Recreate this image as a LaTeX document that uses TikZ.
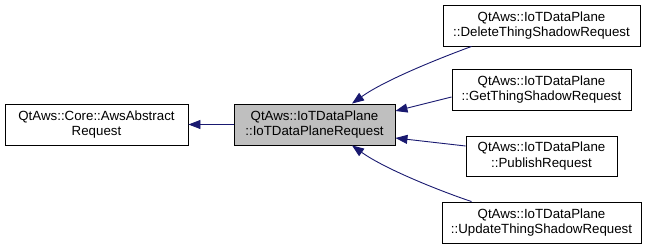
\documentclass[tikz,border=0pt]{standalone}
\usepackage{fontspec}
\setmainfont{Liberation Sans}
\usetikzlibrary{arrows.meta}
\definecolor{edgeblue}{HTML}{191970}
\definecolor{curgrey}{HTML}{BFBFBF}
\begin{document}
\begin{tikzpicture}[x=1pt,y=-1pt,
  cls/.style={draw=black, line width=0.9pt, fill=white, inner sep=0pt, align=center,
    font=\fontsize{13.3}{15.5}\selectfont},
  inherit/.style={draw=edgeblue, line width=0.9pt,
    -{Triangle[length=12pt,width=9pt,fill=edgeblue]}}]
\useasboundingbox (0,0) rectangle (647,248);
% class boxes
\node[cls, minimum width=183pt, minimum height=41pt] (base) at (96.5,124.5) {QtAws::Core::AwsAbstract\\Request};
\node[cls, fill=curgrey, minimum width=161pt, minimum height=41pt] (mid) at (314.5,124.5) {QtAws::IoTDataPlane\\::IoTDataPlaneRequest};
\node[cls, minimum width=197pt, minimum height=41pt] (del) at (541.5,25.5) {QtAws::IoTDataPlane\\::DeleteThingShadowRequest};
\node[cls, minimum width=179pt, minimum height=41pt] (get) at (541.5,89.5) {QtAws::IoTDataPlane\\::GetThingShadowRequest};
\node[cls, minimum width=151pt, minimum height=40pt] (pub) at (541.5,156) {QtAws::IoTDataPlane\\::PublishRequest};
\node[cls, minimum width=199pt, minimum height=41pt] (upd) at (541.5,222.5) {QtAws::IoTDataPlane\\::UpdateThingShadowRequest};
% inheritance arrows
\draw[inherit] (mid.west) -- (base.east);
\draw[inherit] ([xshift=29pt]del.south west) .. controls (440,58) and (385,80) .. ([xshift=37.5pt]mid.north);
\draw[inherit] ([yshift=-7.5pt]get.west) -- ([yshift=13.5pt]mid.east);
\draw[inherit] ([yshift=10pt]pub.west) -- ([yshift=-13.5pt]mid.east);
\draw[inherit] ([xshift=30pt]upd.north west) .. controls (440,191) and (385,169) .. ([xshift=37.5pt]mid.south);
\end{tikzpicture}
\end{document}
